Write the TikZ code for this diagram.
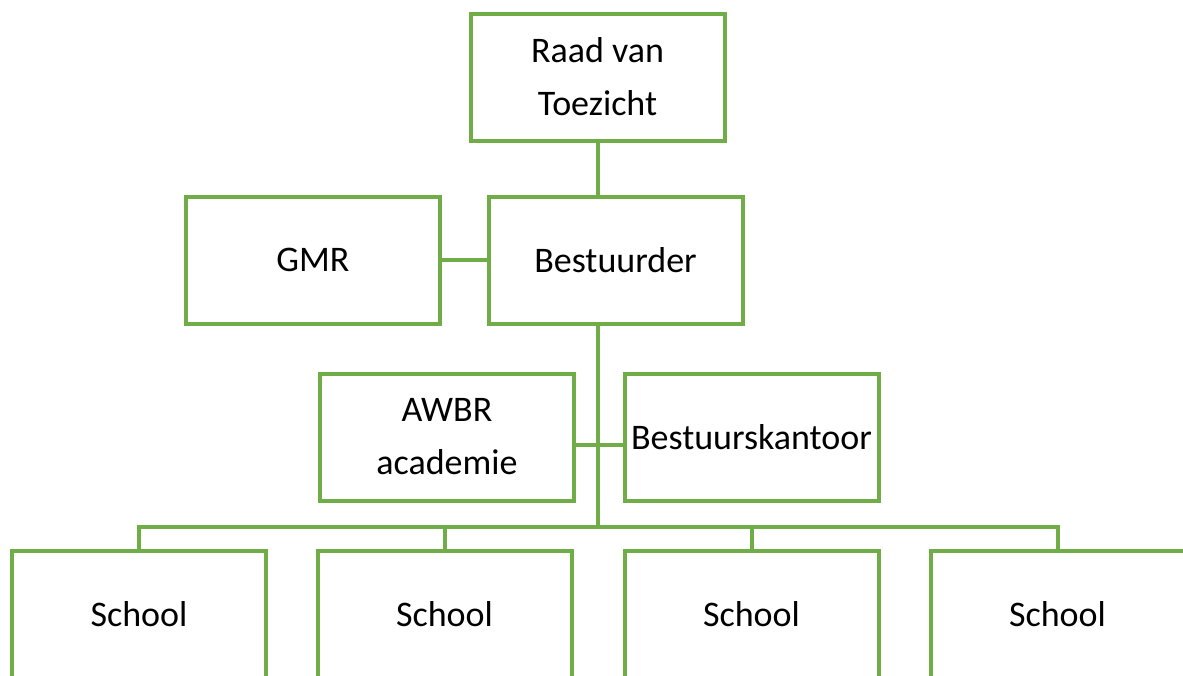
\documentclass[tikz,border=0pt]{standalone}
\usepackage{fontspec}
\setmainfont{Carlito}
\definecolor{boxgreen}{HTML}{70AD47}
\begin{document}
\begin{tikzpicture}[x=1pt,y=-1pt,
  orgbox/.style={draw=boxgreen, line width=4pt, fill=white, rectangle,
    minimum width=254pt, minimum height=127pt, inner sep=0pt, align=center,
    font=\fontsize{36}{53}\selectfont, text=black},
  link/.style={draw=boxgreen, line width=4pt}]
\useasboundingbox (0,0) rectangle (1183,675);
\clip (0,0) rectangle (1183,675);
\fill[white] (0,0) rectangle (1183,675);
\node[orgbox] (raad) at (597.5,77) {Raad van\\Toezicht};
\node[orgbox] (best) at (615.5,260) {Bestuurder};
\node[orgbox] (gmr) at (313,260) {GMR};
\node[orgbox] (awbr) at (447,437) {AWBR\\academie};
\node[orgbox] (kant) at (751.5,437) {Bestuurskantoor};
\node[orgbox] (s1) at (139,614) {School};
\node[orgbox] (s2) at (444.5,614) {School};
\node[orgbox] (s3) at (751.5,614) {School};
\node[orgbox] (s4) at (1057.5,614) {School};
\coordinate (bus) at (597.5,527);
\coordinate (mid) at (597.5,445);
\draw[link] (raad.south) -- (raad.south |- best.north);
\draw[link] (gmr.east) -- (best.west);
\draw[link] (raad.south |- best.south) -- (bus);
\draw[link] (awbr.east |- mid) -- (kant.west |- mid);
\draw[link] (s1.north) |- (bus) -| (s4.north);
\draw[link] (s2.north) -- (s2.north |- bus);
\draw[link] (s3.north) -- (s3.north |- bus);
\end{tikzpicture}
\end{document}
